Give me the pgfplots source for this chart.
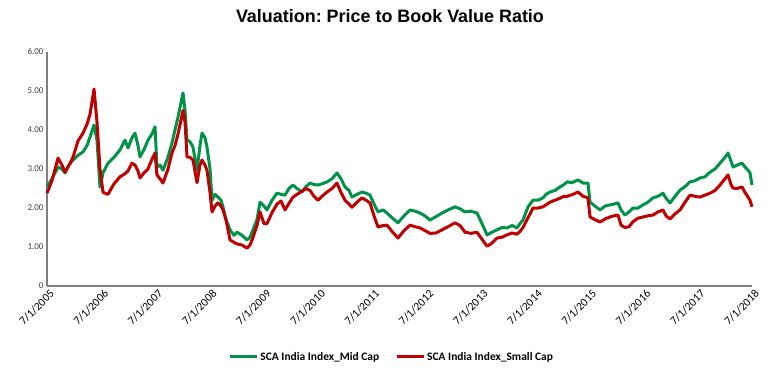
\documentclass[border=0pt]{standalone}
\usepackage{pgfplots}
\pgfplotsset{compat=1.18}
\usepackage{pgfplotstable}
\usepackage{fontspec}
\setmainfont{Carlito}
\newfontfamily\titlefont{Liberation Sans}
\definecolor{mygreen}{RGB}{0,146,70}
\definecolor{myred}{RGB}{192,0,0}
\definecolor{axgray}{RGB}{128,128,128}
\definecolor{labgray}{RGB}{64,64,64}

\pgfplotstableread{
t mid small
2005.500 2.54 2.38
2005.592 2.75 2.70
2005.703 3.05 3.28
2005.777 3.00 3.10
2005.832 2.90 2.92
2005.906 3.10 3.10
2005.979 3.23 3.30
2006.072 3.35 3.72
2006.164 3.44 3.92
2006.238 3.60 4.15
2006.293 3.82 4.40
2006.367 4.13 5.05
2006.422 3.74 4.20
2006.477 2.54 3.00
2006.533 2.90 2.40
2006.625 3.15 2.35
2006.735 3.30 2.62
2006.846 3.49 2.80
2006.938 3.74 2.88
2006.994 3.54 2.95
2007.067 3.80 3.15
2007.123 3.92 3.10
2007.178 3.60 2.95
2007.215 3.31 2.77
2007.289 3.50 2.90
2007.362 3.74 3.00
2007.436 3.90 3.25
2007.492 4.08 3.41
2007.528 3.05 2.85
2007.584 3.10 2.75
2007.639 2.97 2.64
2007.731 3.30 3.00
2007.805 3.67 3.41
2007.860 4.00 3.60
2007.916 4.33 3.90
2008.008 4.95 4.50
2008.045 4.50 4.20
2008.082 3.74 3.31
2008.137 3.70 3.30
2008.192 3.56 3.23
2008.266 2.97 2.65
2008.321 3.60 3.10
2008.358 3.92 3.23
2008.414 3.80 3.10
2008.450 3.56 2.97
2008.506 3.00 2.40
2008.543 2.20 1.90
2008.598 2.35 2.05
2008.653 2.28 2.13
2008.709 2.20 2.05
2008.745 2.03 1.95
2008.801 1.70 1.70
2008.875 1.44 1.18
2008.948 1.30 1.12
2009.004 1.38 1.08
2009.096 1.30 1.05
2009.188 1.18 0.97
2009.243 1.25 1.05
2009.299 1.44 1.25
2009.372 1.70 1.55
2009.428 2.15 1.90
2009.501 2.05 1.60
2009.557 1.95 1.60
2009.649 2.20 1.88
2009.741 2.38 2.10
2009.815 2.35 2.18
2009.889 2.33 1.95
2009.962 2.50 2.12
2010.036 2.59 2.28
2010.110 2.50 2.35
2010.202 2.41 2.43
2010.276 2.55 2.50
2010.350 2.64 2.45
2010.423 2.60 2.30
2010.497 2.59 2.20
2010.571 2.62 2.30
2010.663 2.67 2.41
2010.755 2.75 2.50
2010.848 2.90 2.64
2010.921 2.75 2.40
2010.995 2.54 2.20
2011.069 2.45 2.10
2011.124 2.28 2.02
2011.216 2.35 2.15
2011.309 2.41 2.26
2011.382 2.38 2.20
2011.456 2.33 2.13
2011.530 2.10 1.80
2011.604 1.90 1.51
2011.696 1.95 1.55
2011.770 1.87 1.56
2011.862 1.75 1.40
2011.972 1.62 1.23
2012.083 1.80 1.42
2012.194 1.95 1.56
2012.286 1.92 1.52
2012.378 1.87 1.49
2012.470 1.80 1.42
2012.563 1.69 1.35
2012.673 1.78 1.36
2012.784 1.87 1.44
2012.894 1.95 1.52
2013.024 2.03 1.62
2013.116 1.98 1.55
2013.208 1.90 1.38
2013.319 1.92 1.35
2013.429 1.87 1.38
2013.521 1.60 1.20
2013.614 1.31 1.02
2013.706 1.38 1.10
2013.798 1.44 1.23
2013.890 1.50 1.25
2013.982 1.49 1.31
2014.075 1.55 1.36
2014.167 1.49 1.33
2014.222 1.60 1.40
2014.277 1.69 1.50
2014.370 2.03 1.75
2014.462 2.20 2.00
2014.554 2.20 2.00
2014.646 2.26 2.03
2014.702 2.35 2.08
2014.775 2.41 2.15
2014.868 2.45 2.20
2014.960 2.54 2.25
2015.033 2.60 2.30
2015.089 2.67 2.30
2015.181 2.65 2.34
2015.292 2.72 2.41
2015.384 2.64 2.30
2015.476 2.64 2.26
2015.513 2.15 1.77
2015.605 2.05 1.70
2015.697 1.95 1.64
2015.790 2.05 1.72
2015.882 2.08 1.77
2015.955 2.10 1.80
2016.029 2.13 1.82
2016.085 1.95 1.56
2016.158 1.82 1.50
2016.232 1.90 1.52
2016.306 2.00 1.65
2016.398 2.00 1.74
2016.490 2.08 1.77
2016.582 2.15 1.80
2016.675 2.26 1.82
2016.767 2.30 1.90
2016.859 2.38 1.95
2016.914 2.25 1.80
2016.988 2.13 1.72
2017.080 2.30 1.85
2017.173 2.46 1.95
2017.265 2.55 2.15
2017.357 2.67 2.33
2017.449 2.70 2.30
2017.541 2.77 2.28
2017.634 2.80 2.33
2017.726 2.92 2.38
2017.818 3.00 2.45
2017.910 3.15 2.59
2018.002 3.30 2.75
2018.058 3.41 2.85
2018.113 3.20 2.60
2018.150 3.05 2.51
2018.224 3.10 2.50
2018.316 3.15 2.54
2018.371 3.05 2.40
2018.426 2.97 2.28
2018.463 2.90 2.20
2018.500 2.59 2.03
}\datatable

\begin{document}
\begin{tikzpicture}
\begin{axis}[
  at={(0,0)}, anchor=south west,
  scale only axis,
  width=705bp, height=234bp,
  xmin=2005.5, xmax=2018.5,
  ymin=0, ymax=6,
  axis x line=bottom, axis y line=left,
  axis line style={-, axgray, line width=1.5bp},
  xtick={2005.5,2006.5,...,2018.5},
  xticklabels={7/1/2005,7/1/2006,7/1/2007,7/1/2008,7/1/2009,7/1/2010,7/1/2011,7/1/2012,7/1/2013,7/1/2014,7/1/2015,7/1/2016,7/1/2017,7/1/2018},
  xticklabel style={rotate=45, anchor=north east, font=\fontsize{11.5}{11.5}\selectfont, text=black, inner sep=0.5bp, yshift=-3bp},
  ytick={0,1,2,3,4,5,6},
  yticklabels={0,1.00,2.00,3.00,4.00,5.00,6.00},
  yticklabel style={font=\fontsize{9}{9}\selectfont, text=labgray},
  major tick length=0pt,
  title={\titlefont\bfseries\fontsize{18}{18}\selectfont Valuation:\ Price to Book Value Ratio},
  title style={at={(0.4865,1)}, anchor=center, yshift=30bp},
  legend style={at={(0.489,-0.303)}, anchor=center, draw=none, legend columns=2,
    font=\bfseries\fontsize{11.5}{11.5}\selectfont,
    /tikz/every even column/.append style={column sep=14bp}},
  legend image code/.code={\draw[#1, line width=3bp] (0bp,0bp) -- (27bp,0bp);},
  clip=false,
]
\addplot[mygreen, line width=3bp, line join=round] table[x=t, y=mid] {\datatable};
\addlegendentry{SCA India Index\_Mid Cap}
\addplot[myred, line width=3bp, line join=round] table[x=t, y=small] {\datatable};
\addlegendentry{SCA India Index\_Small Cap}
\end{axis}
\pgfresetboundingbox
\path (-47bp,-91bp) rectangle (732bp,286bp);
\end{tikzpicture}
\end{document}
